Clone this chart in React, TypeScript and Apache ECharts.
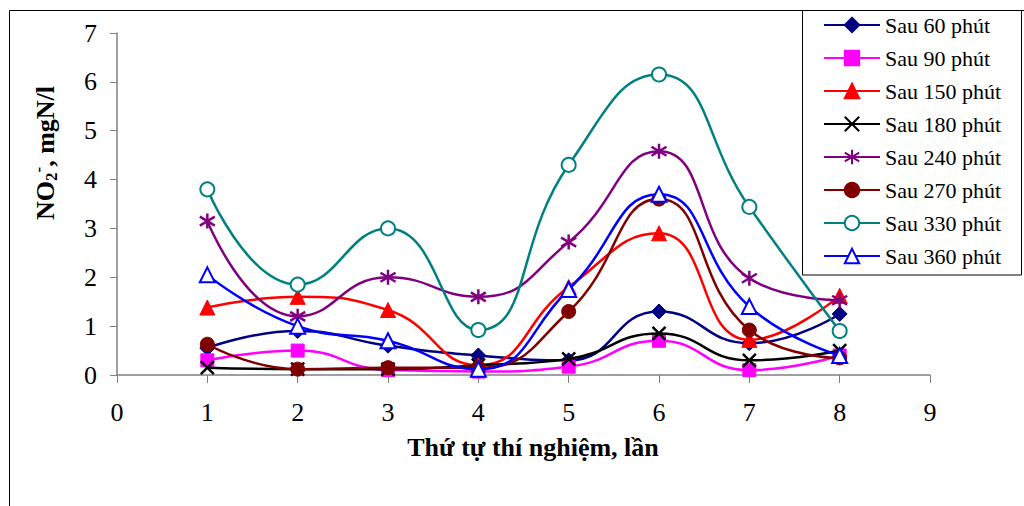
import React, { useEffect, useRef } from "react";
import * as echarts from "echarts";

const trials = [1, 2, 3, 4, 5, 6, 7, 8];
const xTicks = [0, 1, 2, 3, 4, 5, 6, 7, 8, 9];
const yTicks = [0, 1, 2, 3, 4, 5, 6, 7];

const seriesNames = [
  "Sau 60 phút",
  "Sau 90 phút",
  "Sau 150 phút",
  "Sau 180 phút",
  "Sau 240 phút",
  "Sau 270 phút",
  "Sau 330 phút",
  "Sau 360 phút",
];

const s60 = [0.55, 0.9, 0.6, 0.4, 0.3, 1.3, 0.65, 1.25];
const s90 = [0.3, 0.5, 0.1, 0.07, 0.17, 0.7, 0.1, 0.4];
const s150 = [1.38, 1.6, 1.33, 0.2, 1.8, 2.9, 0.72, 1.62];
const s180 = [0.15, 0.12, 0.12, 0.2, 0.33, 0.85, 0.3, 0.5];
const s240 = [3.15, 1.2, 2.0, 1.6, 2.72, 4.58, 1.98, 1.53];
const s270 = [0.63, 0.12, 0.15, 0.15, 1.3, 3.6, 0.92, 0.35];
const s330 = [3.8, 1.85, 3.0, 0.92, 4.3, 6.15, 3.44, 0.9];
const s360 = [2.05, 1.0, 0.7, 0.12, 1.75, 3.7, 1.4, 0.4];

const seriesValues = [s60, s90, s150, s180, s240, s270, s330, s360];
const colors = ["#000080", "#FF00FF", "#FF0000", "#000000", "#800080", "#800000", "#008080", "#0000FF"];

const X_PATH = "path://M0 0L10 10M10 0L0 10";
const STAR_PATH = "path://M5 0L5 10M0.7 2L9.3 8M9.3 2L0.7 8";
const symbols = ["diamond", "rect", "triangle", X_PATH, STAR_PATH, "circle", "emptyCircle", "emptyTriangle"];
const symbolSizes = [15, 13, 15, 13, 15, 14, 14, 15];

const FONT = "'Liberation Serif', 'Times New Roman', serif";

export default function App() {
  const ref = useRef<HTMLDivElement>(null);

  useEffect(() => {
    if (!ref.current) return;
    const chart = echarts.init(ref.current, undefined, { renderer: "svg" });

    const series = seriesNames.map((name, i) => {
      const sym = symbols[i];
      const isStroke = sym === X_PATH || sym === STAR_PATH;
      const isEmpty = sym.startsWith("empty");
      return {
        name,
        type: "line",
        smooth: 0.5,
        data: trials.map((t, k) => [t, seriesValues[i][k]]),
        symbol: sym,
        symbolSize: symbolSizes[i],
        showAllSymbol: true,
        lineStyle: { color: colors[i], width: 2.5 },
        itemStyle: {
          color: colors[i],
          borderColor: colors[i],
          borderWidth: isStroke ? 2.5 : isEmpty ? 2.5 : 1,
        },
        emphasis: { disabled: true },
        z: 2 + i,
      };
    });

    chart.setOption({
      animation: false,
      backgroundColor: "#ffffff",
      grid: { left: 117, right: 94, top: 33, bottom: 131, containLabel: false },
      xAxis: {
        type: "value",
        min: xTicks[0],
        max: xTicks[xTicks.length - 1],
        interval: 1,
        axisLine: { show: true, onZero: false, lineStyle: { color: "#808080", width: 1.5 } },
        axisTick: { show: true, length: 8, lineStyle: { color: "#808080" } },
        axisLabel: { fontFamily: FONT, fontSize: 26, color: "#000", margin: 24 },
        splitLine: { show: false },
      },
      yAxis: {
        type: "value",
        min: yTicks[0],
        max: yTicks[yTicks.length - 1],
        interval: 1,
        axisLine: { show: true, onZero: false, lineStyle: { color: "#808080", width: 1.5 } },
        axisTick: { show: true, length: 7, lineStyle: { color: "#808080" } },
        axisLabel: { fontFamily: FONT, fontSize: 26, color: "#000", margin: 20 },
        splitLine: { show: false },
      },
      legend: {
        orient: "vertical",
        left: 823,
        top: 14,
        itemWidth: 56,
        itemHeight: 18,
        itemGap: 11,
        padding: 0,
        textStyle: { fontFamily: FONT, fontSize: 22, color: "#000" },
        data: seriesNames,
      },
      graphic: [
        {
          type: "rect",
          shape: { x: 9.5, y: 10.5, width: 1100, height: 700 },
          style: { fill: "none", stroke: "#000", lineWidth: 1 },
          silent: true,
          z: -1,
        },
        {
          type: "rect",
          shape: { x: 802.5, y: 10.5, width: 219, height: 264.5 },
          style: { fill: "none", stroke: "#000", lineWidth: 1 },
          silent: true,
        },
        {
          type: "text",
          x: 533,
          y: 447,
          style: {
            text: "Thứ tự thí nghiệm, lần",
            fontFamily: FONT,
            fontSize: 26,
            fontWeight: "bold",
            fill: "#000",
            align: "center",
            verticalAlign: "middle",
          },
        },
        {
          type: "text",
          x: 45,
          y: 153,
          rotation: Math.PI / 2,
          style: {
            text: "NO{sub|2}{sup|-}, mgN/l",
            fontFamily: FONT,
            fontSize: 26,
            fontWeight: "bold",
            fill: "#000",
            align: "center",
            verticalAlign: "middle",
            lineHeight: 30,
            rich: {
              sub: {
                fontFamily: FONT,
                fontSize: 17,
                fontWeight: "bold",
                fill: "#000",
                verticalAlign: "bottom",
                lineHeight: 30,
              },
              sup: {
                fontFamily: FONT,
                fontSize: 17,
                fontWeight: "bold",
                fill: "#000",
                verticalAlign: "top",
                lineHeight: 30,
              },
            },
          },
        },
      ],
      series,
    });

    return () => chart.dispose();
  }, []);

  return (
    <div
      ref={ref}
      style={{ position: "absolute", left: 0, top: 0, width: 1024, height: 506, background: "#fff" }}
    />
  );
}
